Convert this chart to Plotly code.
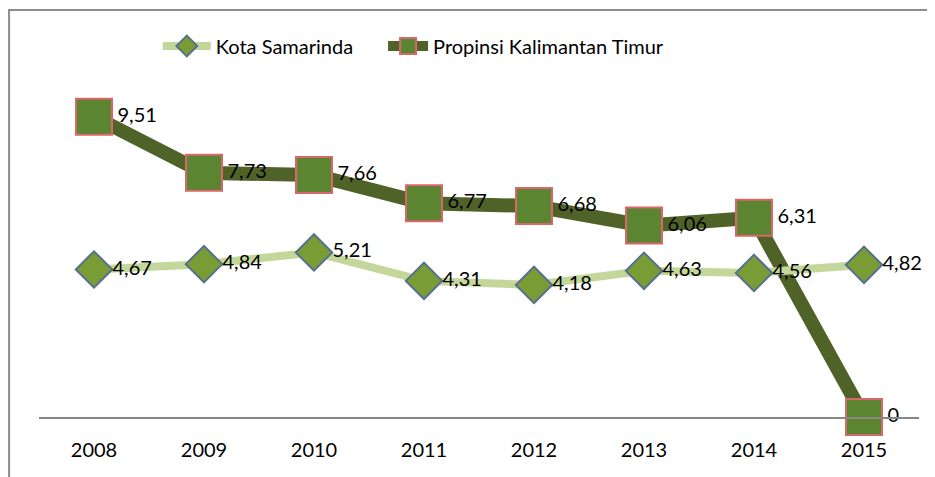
import plotly.graph_objects as go

# chart data
years = ['2008', '2009', '2010', '2011', '2012', '2013', '2014', '2015']
kota_samarinda = [4.67, 4.84, 5.21, 4.31, 4.18, 4.63, 4.56, 4.82]
propinsi_kaltim = [9.51, 7.73, 7.66, 6.77, 6.68, 6.06, 6.31, 0]

FONT = 'Lato, Carlito, Calibri, sans-serif'


def label(v):
    return ('%g' % v).replace('.', ',')


trace1 = go.Scatter(
    x=years, y=kota_samarinda, name='Kota Samarinda',
    mode='lines+markers+text',
    text=[label(v) for v in kota_samarinda],
    textposition='middle right',
    textfont=dict(size=20, color='black', family=FONT),
    line=dict(color='#c4d79b', width=8),
    marker=dict(symbol='diamond', size=28, color='#7a9c35',
                line=dict(color='#56708f', width=2)),
    cliponaxis=False,
    legend='legend',
)
trace2 = go.Scatter(
    x=years, y=propinsi_kaltim, name='Propinsi Kalimantan Timur',
    mode='lines+markers+text',
    text=[label(v) for v in propinsi_kaltim],
    textposition='middle right',
    textfont=dict(size=20, color='black', family=FONT),
    line=dict(color='#4f6228', width=14),
    marker=dict(symbol='square', size=36, color='#5b8530',
                line=dict(color='#d7676a', width=2)),
    cliponaxis=False,
    legend='legend2',
)

# the page body adds 8px around the figure, so the figure is 8px smaller
layout = go.Layout(
    width=927, height=469,
    margin=dict(l=31, r=16, t=30, b=60),
    paper_bgcolor='white', plot_bgcolor='white',
    font=dict(family=FONT, size=20, color='black'),
    showlegend=True,
    legend=dict(orientation='h', x=0.135, xanchor='left', y=0.979, yanchor='middle',
                font=dict(size=20), bgcolor='rgba(0,0,0,0)', itemwidth=48),
    legend2=dict(orientation='h', x=0.391, xanchor='left', y=0.979, yanchor='middle',
                 font=dict(size=20), bgcolor='rgba(0,0,0,0)', itemwidth=40),
    xaxis=dict(type='category', range=[-0.5, 7.5], showline=True, linecolor='#868686',
               linewidth=2, showgrid=False, ticks='', zeroline=False,
               ticklabelstandoff=14, tickfont=dict(size=20)),
    yaxis=dict(range=[0, 12], visible=False, showgrid=False, zeroline=False),
    shapes=[
        # outer chart frame (only top and left edges fall inside the picture)
        dict(type='rect', xref='paper', yref='paper', x0=-0.034, x1=1.1, y0=-0.3, y1=1.074,
             line=dict(color='#8c8c8c', width=2), fillcolor='rgba(0,0,0,0)', layer='below'),
    ],
)

fig = go.Figure(data=[trace2, trace1], layout=layout)
fig.write_html('out.html')
